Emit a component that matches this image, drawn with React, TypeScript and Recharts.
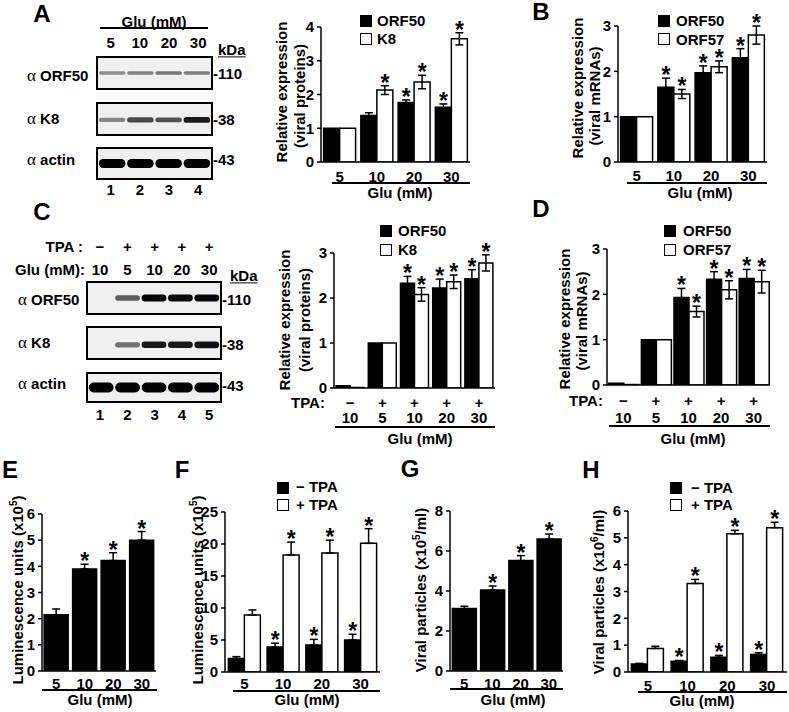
import React from "react";
import {
  Bar,
  BarChart,
  ErrorBar,
  LabelList,
  Scatter,
  ScatterChart,
  XAxis,
  YAxis,
} from "recharts";

const FONT = "'Liberation Sans', Arial, Helvetica, sans-serif";

// ---- A: viral proteins vs glucose
const gluLevels = ["5", "10", "20", "30"];
const protOrf50 = [1, 1.38, 1.76, 1.62];
const protOrf50Err = [0, 0.08, 0.08, 0.1];
const protOrf50Star = [false, false, true, true];
const protK8 = [1, 2.13, 2.37, 3.65];
const protK8Err = [0, 0.13, 0.2, 0.18];
const protK8Star = [false, true, true, true];

// ---- B: viral mRNAs vs glucose
const mrnaOrf50 = [1, 1.65, 1.97, 2.3];
const mrnaOrf50Err = [0, 0.2, 0.15, 0.2];
const mrnaOrf57 = [1, 1.5, 2.1, 2.8];
const mrnaOrf57Err = [0, 0.1, 0.13, 0.2];
const mrnaStar = [false, true, true, true];

// ---- C / D: TPA + glucose
const tpaSigns = ["\u2212", "+", "+", "+", "+"];
const tpaGlu = ["10", "5", "10", "20", "30"];
const tpaProtOrf50 = [0.05, 1, 2.33, 2.22, 2.43];
const tpaProtOrf50Err = [0, 0, 0.15, 0.2, 0.2];
const tpaProtK8 = [0.01, 1, 2.08, 2.36, 2.78];
const tpaProtK8Err = [0, 0, 0.15, 0.15, 0.18];
const tpaMrnaOrf50 = [0.04, 1, 1.93, 2.33, 2.35];
const tpaMrnaOrf50Err = [0, 0, 0.2, 0.17, 0.2];
const tpaMrnaOrf57 = [0.01, 1, 1.62, 2.1, 2.28];
const tpaMrnaOrf57Err = [0, 0, 0.12, 0.2, 0.25];
const tpaStar = [false, false, true, true, true];

// ---- E: luminescence
const lumi = [2.15, 3.9, 4.22, 5.0];
const lumiErr = [0.22, 0.18, 0.3, 0.33];
// ---- F: luminescence -/+ TPA
const lumiNoTpa = [2.1, 3.9, 4.2, 5.0];
const lumiNoTpaErr = [0.3, 0.6, 0.9, 0.9];
const lumiTpa = [8.9, 18.3, 18.6, 20.1];
const lumiTpaErr = [0.8, 2.0, 2.0, 2.3];
// ---- G: viral particles
const particles = [3.12, 4.05, 5.52, 6.6];
const particlesErr = [0.12, 0.2, 0.25, 0.25];
// ---- H: viral particles -/+ TPA
const particlesNoTpa = [0.3, 0.4, 0.55, 0.65];
const particlesNoTpaErr = [0.02, 0.03, 0.07, 0.07];
const particlesTpa = [0.88, 3.3, 5.15, 5.38];
const particlesTpaErr = [0.08, 0.15, 0.13, 0.2];
const gluStar = [false, true, true, true];

// ---- western blots (band intensity per lane)
const blotAOrf50 = [0.3, 0.35, 0.42, 0.38];
const blotAK8 = [0.35, 0.65, 0.6, 0.88];
const blotAActin = [1, 1, 1, 1];
const blotCOrf50 = [0, 0.55, 1, 0.95, 0.97];
const blotCK8 = [0, 0.45, 0.88, 0.88, 0.92];
const blotCActin = [1, 1, 1, 1, 1];

type Series = {
  values: number[];
  errs: number[];
  stars: boolean[];
  white?: boolean;
  upOnly?: boolean;
};

type PanelProps = {
  axisX: number;
  axisEnd: number;
  y0: number;
  yTop: number;
  max: number;
  ticks: number[];
  cats: string[];
  tpa?: string[];
  off1: number;
  off2?: number;
  gap: string;
  series: Series[];
};

function BarPanel(p: PanelProps) {
  const ml = 36;
  const mt = 30;
  const mr = 4;
  const mb = 44;
  const plotH = p.y0 - p.yTop;
  const k = plotH / p.max;
  const rows = p.cats.map((c, i) => {
    const r: Record<string, any> = { cat: String(i) };
    p.series.forEach((s, j) => {
      r["v" + j] = s.values[i];
      r["e" + j] = s.upOnly ? [0, s.errs[i]] : s.errs[i];
      r["s" + j] = s.stars[i] ? s.errs[i] : -1;
    });
    return r;
  });

  const tick = (t: any) => {
    const i = Number(t.payload?.value);
    return (
      <g>
        {p.tpa && (
          <text x={t.x} y={t.y + p.off1} textAnchor="middle" dominantBaseline="central"
            fontSize={15} fontWeight={700} fontFamily={FONT} fill="#000">
            {p.tpa[i]}
          </text>
        )}
        <text x={t.x} y={t.y + (p.tpa ? p.off2 ?? 0 : p.off1)} textAnchor="middle"
          dominantBaseline="central" fontSize={15} fontWeight={700} fontFamily={FONT} fill="#000">
          {p.cats[i]}
        </text>
      </g>
    );
  };

  const star = (l: any) => {
    const v = Number(l.value);
    if (!(v >= 0)) return null;
    const cx = Number(l.x) + Number(l.width) / 2;
    const top = Number(l.y) - v * k;
    return (
      <text x={cx} y={top + 5} textAnchor="middle" fontSize={23} fontWeight={700}
        fontFamily={FONT} fill="#000">
        *
      </text>
    );
  };

  return (
    <div style={{ position: "absolute", left: p.axisX - ml, top: p.yTop - mt }}>
      <BarChart
        width={p.axisEnd - p.axisX + ml + mr}
        height={plotH + mt + mb}
        data={rows}
        margin={{ top: mt, right: mr, left: 0, bottom: 0 }}
        barGap={0}
        barCategoryGap={p.gap}
      >
        <XAxis
          dataKey="cat"
          height={mb}
          interval={0}
          axisLine={{ stroke: "#000", strokeWidth: 1.5 }}
          tickLine={false}
          tickSize={0}
          tickMargin={0}
          tick={tick}
        />
        <YAxis
          width={ml}
          domain={[0, p.max]}
          ticks={p.ticks}
          allowDataOverflow
          axisLine={{ stroke: "#000", strokeWidth: 1.5 }}
          tickLine={{ stroke: "#000", strokeWidth: 1.5 }}
          tickSize={4}
          tickMargin={3}
          tick={{ fill: "#000", fontSize: 15, fontWeight: 700, fontFamily: FONT }}
        />
        {p.series.map((s, j) => (
          <Bar
            key={j}
            dataKey={"v" + j}
            fill={s.white ? "#fff" : "#000"}
            stroke="#000"
            strokeWidth={1.5}
            isAnimationActive={false}
          >
            <ErrorBar dataKey={"e" + j} width={4} stroke="#000" strokeWidth={1.5} direction="y" />
            <LabelList dataKey={"s" + j} content={star} />
          </Bar>
        ))}
      </BarChart>
    </div>
  );
}

function Blot({ left, top, width, height, bands, bandH, pos = 0.5 }: {
  left: number; top: number; width: number; height: number; bands: number[]; bandH: number; pos?: number;
}) {
  const inner = width - 4;
  const laneW = inner / bands.length;
  const data = bands.map((b, i) => ({ lane: i + 1, y: pos, b }));
  return (
    <div style={{ position: "absolute", left, top, width, height, border: "2px solid #000",
      background: "#f0f0f0", boxSizing: "border-box" }}>
      <ScatterChart width={inner} height={height - 4} margin={{ top: 0, right: 0, bottom: 0, left: 0 }}>
        <XAxis type="number" dataKey="lane" domain={[0.5, bands.length + 0.5]} hide />
        <YAxis type="number" dataKey="y" domain={[0, 1]} hide />
        <Scatter
          data={data}
          isAnimationActive={false}
          shape={(s: any) => {
            const b = s.payload.b;
            if (b <= 0) return <g />;
            const w = laneW * 0.94;
            const h = bandH * (0.55 + 0.45 * b);
            return (
              <rect x={s.cx - w / 2} y={s.cy - h / 2} width={w} height={h} rx={h / 2}
                fill="#000" fillOpacity={0.15 + 0.85 * b} style={{ filter: "blur(0.7px)" }} />
            );
          }}
        />
      </ScatterChart>
    </div>
  );
}

const T = ({ x, y, children, size = 15, anchor = "center", weight = 700, style }: any) => (
  <div
    style={{
      position: "absolute",
      left: x,
      top: y,
      transform: anchor === "center" ? "translate(-50%,-50%)" : anchor === "left" ? "translate(0,-50%)" : "translate(-100%,-50%)",
      fontFamily: FONT,
      fontWeight: weight,
      fontSize: size,
      whiteSpace: "nowrap",
      lineHeight: 1.15,
      color: "#000",
      ...style,
    }}
  >
    {children}
  </div>
);

const VT = ({ x, y, children, size = 15 }: any) => (
  <div
    style={{
      position: "absolute",
      left: x,
      top: y,
      transform: "translate(-50%,-50%) rotate(-90deg)",
      fontFamily: FONT,
      fontWeight: 700,
      fontSize: size,
      whiteSpace: "nowrap",
      lineHeight: 1,
    }}
  >
    {children}
  </div>
);

const HLine = ({ x1, x2, y }: any) => (
  <div style={{ position: "absolute", left: x1, top: y - 0.75, width: x2 - x1, height: 1.5, background: "#000" }} />
);

const Sq = ({ x, y, white }: any) => (
  <div style={{ position: "absolute", left: x, top: y, width: 12, height: 12, boxSizing: "border-box",
    background: white ? "#fff" : "#000", border: "1.5px solid #000" }} />
);

const Alpha = ({ name }: { name: string }) => (
  <>
    <span style={{ fontFamily: "'Liberation Serif', serif", fontWeight: 400, fontSize: 17 }}>{"\u03b1"}</span> {name}
  </>
);

const SUP = (n: string) => <sup style={{ fontSize: 10, verticalAlign: 6 }}>{n}</sup>;

export default function App() {
  return (
    <div style={{ position: "absolute", left: 0, top: 0, width: 789, height: 712, background: "#fff", overflow: "hidden" }}>
      {/* panel letters */}
      <T x={42} y={14} size={24}>A</T>
      <T x={541} y={12} size={24}>B</T>
      <T x={42} y={212} size={24}>C</T>
      <T x={541} y={209} size={24}>D</T>
      <T x={10} y={470} size={24}>E</T>
      <T x={182} y={470} size={24}>F</T>
      <T x={410} y={469} size={24}>G</T>
      <T x={591} y={470} size={24}>H</T>

      {/* ---- A blot ---- */}
      <T x={154} y={22}>Glu (mM)</T>
      <HLine x1={100} x2={208} y={28} />
      {gluLevels.map((g, i) => (
        <T key={g} x={110.6 + i * 29.2} y={43}>{g}</T>
      ))}
      <T x={218} y={50} anchor="left" style={{ textDecoration: "underline" }}>kDa</T>
      <Blot left={96} top={56} width={117} height={34} bands={blotAOrf50} bandH={5} />
      <Blot left={96} top={102} width={117} height={34} bands={blotAK8} bandH={6} pos={0.47} />
      <Blot left={96} top={147} width={117} height={33} bands={blotAActin} bandH={9} />
      <T x={27} y={76} anchor="left"><Alpha name="ORF50" /></T>
      <T x={27} y={119} anchor="left"><Alpha name="K8" /></T>
      <T x={27} y={160} anchor="left"><Alpha name="actin" /></T>
      <T x={213} y={74} anchor="left">-110</T>
      <T x={213} y={120} anchor="left">-38</T>
      <T x={213} y={160} anchor="left">-43</T>
      {["1", "2", "3", "4"].map((n, i) => (
        <T key={n} x={110.6 + i * 29.2} y={190}>{n}</T>
      ))}

      {/* ---- A chart ---- */}
      <VT x={281} y={92}>Relative expression</VT>
      <VT x={299} y={96}>(viral proteins)</VT>
      <Sq x={360} y={15} />
      <Sq x={360} y={33} white />
      <T x={377} y={21} anchor="left">ORF50</T>
      <T x={377} y={39} anchor="left">K8</T>
      <BarPanel axisX={321} axisEnd={470} y0={162} yTop={27} max={4} ticks={[0, 1, 2, 3, 4]}
        cats={gluLevels} off1={14} gap="7%"
        series={[
          { values: protOrf50, errs: protOrf50Err, stars: protOrf50Star },
          { values: protK8, errs: protK8Err, stars: protK8Star, white: true },
        ]} />
      <HLine x1={332} x2={470} y={183} />
      <T x={400} y={193}>Glu (mM)</T>

      {/* ---- B chart ---- */}
      <VT x={577} y={88}>Relative expression</VT>
      <VT x={594} y={96}>(viral mRNAs)</VT>
      <Sq x={658} y={15} />
      <Sq x={658} y={33} white />
      <T x={676} y={21} anchor="left">ORF50</T>
      <T x={676} y={40} anchor="left">ORF57</T>
      <BarPanel axisX={618} axisEnd={767} y0={162} yTop={26} max={3} ticks={[0, 1, 2, 3]}
        cats={gluLevels} off1={13} gap="7%"
        series={[
          { values: mrnaOrf50, errs: mrnaOrf50Err, stars: mrnaStar },
          { values: mrnaOrf57, errs: mrnaOrf57Err, stars: mrnaStar, white: true },
        ]} />
      <HLine x1={627} x2={767} y={183} />
      <T x={700} y={193}>Glu (mM)</T>

      {/* ---- C blot ---- */}
      <T x={83} y={247} anchor="right">TPA :</T>
      <T x={85} y={270} anchor="right">Glu (mM):</T>
      {tpaSigns.map((s, i) => (
        <T key={"cs" + i} x={100 + i * 27.3} y={247}>{s}</T>
      ))}
      {tpaGlu.map((g, i) => (
        <T key={"cg" + i} x={100 + i * 27.3} y={270}>{g}</T>
      ))}
      <T x={230} y={276} anchor="left" style={{ textDecoration: "underline" }}>kDa</T>
      <Blot left={86} top={281} width={136} height={34} bands={blotCOrf50} bandH={7} />
      <Blot left={86} top={326} width={136} height={34} bands={blotCK8} bandH={7} pos={0.44} />
      <Blot left={86} top={372} width={136} height={31} bands={blotCActin} bandH={10} />
      <T x={18} y={300} anchor="left"><Alpha name="ORF50" /></T>
      <T x={18} y={343} anchor="left"><Alpha name="K8" /></T>
      <T x={18} y={384} anchor="left"><Alpha name="actin" /></T>
      <T x={222} y={300} anchor="left">-110</T>
      <T x={222} y={345} anchor="left">-38</T>
      <T x={222} y={386} anchor="left">-43</T>
      {["1", "2", "3", "4", "5"].map((n, i) => (
        <T key={n} x={100 + i * 27.3} y={415}>{n}</T>
      ))}

      {/* ---- C chart ---- */}
      <VT x={284} y={320}>Relative expression</VT>
      <VT x={304} y={320}>(viral proteins)</VT>
      <Sq x={380} y={225} />
      <Sq x={380} y={244} white />
      <T x={398} y={231} anchor="left">ORF50</T>
      <T x={398} y={250} anchor="left">K8</T>
      <BarPanel axisX={334} axisEnd={495} y0={388} yTop={253} max={3} ticks={[0, 1, 2, 3]}
        cats={tpaGlu} tpa={tpaSigns} off1={14} off2={29} gap="6.5%"
        series={[
          { values: tpaProtOrf50, errs: tpaProtOrf50Err, stars: tpaStar },
          { values: tpaProtK8, errs: tpaProtK8Err, stars: tpaStar, white: true },
        ]} />
      <T x={308} y={403}>TPA:</T>
      <HLine x1={335} x2={495} y={427} />
      <T x={420} y={439}>Glu (mM)</T>

      {/* ---- D chart ---- */}
      <VT x={564} y={319}>Relative expression</VT>
      <VT x={581} y={321}>(viral mRNAs)</VT>
      <Sq x={664} y={225} />
      <Sq x={664} y={244} white />
      <T x={683} y={231} anchor="left">ORF50</T>
      <T x={683} y={250} anchor="left">ORF57</T>
      <BarPanel axisX={607} axisEnd={770} y0={385} yTop={249} max={3} ticks={[0, 1, 2, 3]}
        cats={tpaGlu} tpa={tpaSigns} off1={15} off2={32} gap="5.5%"
        series={[
          { values: tpaMrnaOrf50, errs: tpaMrnaOrf50Err, stars: tpaStar },
          { values: tpaMrnaOrf57, errs: tpaMrnaOrf57Err, stars: tpaStar, white: true },
        ]} />
      <T x={586} y={401}>TPA:</T>
      <HLine x1={609} x2={770} y={426} />
      <T x={693} y={439}>Glu (mM)</T>

      {/* ---- E ---- */}
      <VT x={17} y={590}>Luminescence units (x10{SUP("5")})</VT>
      <BarPanel axisX={42} axisEnd={156} y0={671} yTop={514} max={6} ticks={[0, 1, 2, 3, 4, 5, 6]}
        cats={gluLevels} off1={12} gap="7.5%"
        series={[{ values: lumi, errs: lumiErr, stars: gluStar, upOnly: true }]} />
      <HLine x1={42} x2={157} y={690} />
      <T x={100} y={700}>Glu (mM)</T>

      {/* ---- F ---- */}
      <VT x={197} y={590}>Luminescence units (x10{SUP("5")})</VT>
      <Sq x={277} y={482} />
      <Sq x={277} y={499} white />
      <T x={296} y={487} anchor="left">{"\u2212"} TPA</T>
      <T x={296} y={505} anchor="left">+ TPA</T>
      <BarPanel axisX={225} axisEnd={380} y0={672} yTop={512} max={25} ticks={[0, 5, 10, 15, 20, 25]}
        cats={gluLevels} off1={11} gap="8.7%"
        series={[
          { values: lumiNoTpa, errs: lumiNoTpaErr, stars: gluStar, upOnly: true },
          { values: lumiTpa, errs: lumiTpaErr, stars: gluStar, white: true, upOnly: true },
        ]} />
      <HLine x1={233} x2={380} y={691} />
      <T x={307} y={700}>Glu (mM)</T>

      {/* ---- G ---- */}
      <VT x={420} y={590}>Viral particles (x10{SUP("5")}/ml)</VT>
      <BarPanel axisX={450} axisEnd={563} y0={671} yTop={511} max={8} ticks={[0, 1, 2, 3, 4, 5, 6, 7, 8]}
        cats={gluLevels} off1={12} gap="8.4%"
        series={[{ values: particles, errs: particlesErr, stars: gluStar, upOnly: true }]} />
      <HLine x1={450} x2={563} y={689} />
      <T x={513} y={700}>Glu (mM)</T>

      {/* ---- H ---- */}
      <VT x={598} y={592}>Viral particles (x10{SUP("6")}/ml)</VT>
      <Sq x={670} y={482} />
      <Sq x={670} y={499} white />
      <T x={691} y={488} anchor="left">{"\u2212"} TPA</T>
      <T x={691} y={505} anchor="left">+ TPA</T>
      <BarPanel axisX={628} axisEnd={787} y0={672} yTop={511} max={6} ticks={[0, 1, 2, 3, 4, 5, 6]}
        cats={gluLevels} off1={13} gap="8.5%"
        series={[
          { values: particlesNoTpa, errs: particlesNoTpaErr, stars: gluStar, upOnly: true },
          { values: particlesTpa, errs: particlesTpaErr, stars: gluStar, white: true, upOnly: true },
        ]} />
      <HLine x1={638} x2={787} y={692} />
      <T x={702} y={701}>Glu (mM)</T>
    </div>
  );
}
